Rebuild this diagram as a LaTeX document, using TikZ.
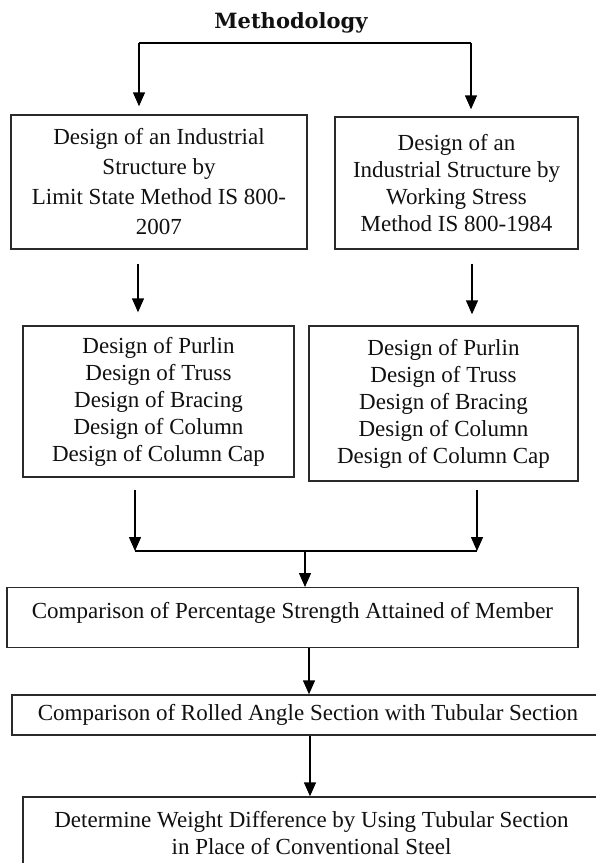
\documentclass[tikz,border=0pt]{standalone}
\usepackage{fontspec}
\setmainfont{Liberation Serif}
\newfontfamily\titlefont{DejaVu Serif}
\usetikzlibrary{arrows.meta}
\definecolor{boxcol}{HTML}{2A2A2A}
\definecolor{inkcol}{HTML}{111111}
\begin{document}
\begin{tikzpicture}[x=1pt,y=-1pt,
  boxbase/.style={draw=boxcol, line width=1.4pt, inner sep=0pt, text=inkcol,
    font=\fontsize{23}{27}\selectfont},
  box/.style={boxbase, align=center},
  arr/.style={draw=black, line width=1.4pt, -{Triangle[length=14pt,width=12pt]}},
  link/.style={draw=black, line width=1.4pt}]
\clip (0,0) rectangle (596,863);
\fill[white] (0,0) rectangle (596,863);

% title
\node[text=inkcol, font={\titlefont\bfseries\fontsize{21}{25}\selectfont}] (title) at (291,23) {Methodology};

% first row
\node[box, minimum width=296pt, minimum height=134pt, font=\fontsize{23}{30}\selectfont] (l1) at (159,182)
  {Design of an Industrial\\Structure by\\Limit State Method IS 800-\\2007};
\node[box, minimum width=243pt, minimum height=132pt] (r1) at (456.5,183)
  {Design of an\\Industrial Structure by\\Working Stress\\Method IS 800-1984};

% second row
\node[box, minimum width=271pt, minimum height=151pt] (l2) at (158.5,401.5)
  {Design of Purlin\\Design of Truss\\Design of Bracing\\Design of Column\\Design of Column Cap};
\node[box, minimum width=269pt, minimum height=155pt] (r2) at (443.5,403.5)
  {Design of Purlin\\Design of Truss\\Design of Bracing\\Design of Column\\Design of Column Cap};

% lower chain
\node[boxbase, minimum width=571pt, text height=31pt, text depth=29pt, anchor=north] (c1) at (292.5,587)
  {Comparison of Percentage Strength Attained of Member};
\node[box, minimum width=592pt, minimum height=40pt] (c2) at (308,715)
  {Comparison of Rolled Angle Section with Tubular Section};
\node[box, minimum width=577pt, minimum height=73pt] (c3) at (311.5,833.5)
  {Determine Weight Difference by Using Tubular Section\\in Place of Conventional Steel};

% connectors
\coordinate (tl) at (139,43);
\coordinate (tr) at (471,43);
\draw[link] (tl) -- (tr);
\draw[arr, shorten >=8pt] (tl) -- (tl |- l1.north);
\draw[arr, shorten >=7pt] (tr) -- (tr |- r1.north);

\draw[arr, shorten <=14pt, shorten >=13pt] (138,0 |- l1.south) -- (138,0 |- l2.north);
\draw[arr, shorten <=14pt, shorten >=11pt] (472,0 |- r1.south) -- (472,0 |- r2.north);

\coordinate (jl) at (135,551);
\coordinate (jr) at (477,551);
\coordinate (jm) at (305,551);
\draw[arr, shorten <=12pt] (135,0 |- l2.south) -- (jl);
\draw[arr, shorten <=8pt] (477,0 |- r2.south) -- (jr);
\draw[link] (jl) -- (jr);
\draw[arr] (jm) -- (jm |- c1.north);
\draw[arr] (309,0 |- c1.south) -- (309,0 |- c2.north);
\draw[arr] (310,0 |- c2.south) -- (310,0 |- c3.north);
\end{tikzpicture}
\end{document}
